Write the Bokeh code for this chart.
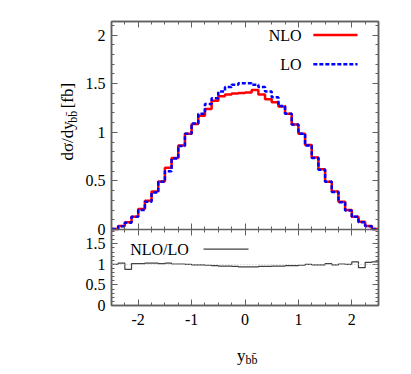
import numpy as np
from bokeh.plotting import figure
from bokeh.models import (Range1d, FixedTicker, LinearAxis, Label, CustomJSTickFormatter,
                          Span)
from bokeh.layouts import column, row
from bokeh.embed import file_html
from bokeh.resources import INLINE

# ---------------- data ----------------
x_min, x_max, bin_width = -2.5, 2.5, 0.125

lo = [0.006, 0.034, 0.070, 0.130, 0.200, 0.285, 0.380, 0.490, 0.600, 0.730,
      0.860, 0.985, 1.090, 1.190, 1.290, 1.350, 1.420, 1.465, 1.490, 1.505,
      1.505, 1.490, 1.465, 1.420, 1.360, 1.270, 1.190, 1.080, 0.985, 0.865,
      0.735, 0.615, 0.490, 0.385, 0.280, 0.195, 0.130, 0.075, 0.033, 0.006]

nlo = [0.006, 0.035, 0.075, 0.130, 0.210, 0.295, 0.390, 0.495, 0.635, 0.735,
       0.865, 0.985, 1.085, 1.170, 1.240, 1.325, 1.370, 1.390, 1.400, 1.405,
       1.410, 1.435, 1.390, 1.340, 1.310, 1.265, 1.190, 1.080, 0.985, 0.870,
       0.740, 0.620, 0.490, 0.390, 0.285, 0.200, 0.130, 0.080, 0.035, 0.006]

ratio = [1.00, 1.03, 0.88, 1.02, 1.02, 1.03, 1.03, 1.02, 1.03, 1.01,
         1.01, 1.00, 0.99, 0.99, 0.98, 0.97, 0.96, 0.96, 0.95, 0.94,
         0.94, 0.94, 0.95, 0.95, 0.96, 0.96, 0.97, 0.97, 0.98, 1.00,
         0.99, 0.99, 1.02, 0.99, 1.01, 1.00, 1.06, 0.92, 1.05, 1.06]

x_ticks = [-2, -1, 0, 1, 2]
x_minor = [round(v, 2) for v in np.arange(-2.5, 2.51, 0.25)]
main_y_ticks = [0, 0.5, 1, 1.5, 2]
main_y_minor = [round(v, 2) for v in np.arange(0, 2.15, 0.1)]
ratio_y_ticks = [0, 0.5, 1, 1.5]
ratio_y_minor = [round(v, 2) for v in np.arange(0, 1.85, 0.1)]

main_top = 2.14      # upper end of the main panel
ratio_top = 1.85     # upper end of the ratio panel

edges = x_min + bin_width * np.arange(len(lo) + 1)

# ---------------- geometry / styling ----------------
FONT = "Liberation Serif"
AXC = "#606060"
MAIN_PX, RATIO_PX = 208, 76
y0 = -main_top * RATIO_PX / MAIN_PX        # primary-range value at the ratio panel's bottom
k = -y0 / ratio_top                        # primary units per ratio unit
ratio_end = (main_top - y0) / k            # ratio-range value at the frame top


def r2p(r):
    return y0 + r * k


left_ticks = main_y_ticks + [r2p(r) for r in ratio_y_ticks]
left_minor = main_y_minor + [r2p(r) for r in ratio_y_minor]

yfmt = CustomJSTickFormatter(args=dict(y0=y0, k=k), code="""
    let v = tick;
    if (tick < -1e-9) { v = (tick - y0) / k; }
    return String(Math.round(v * 100) / 100);
""")
xfmt = CustomJSTickFormatter(code="return String(tick);")
blank = CustomJSTickFormatter(code="return '';")


def style_axis(ax, ticks, minor, formatter, labels=True):
    ax.ticker = FixedTicker(ticks=ticks, minor_ticks=minor)
    ax.formatter = formatter if labels else blank
    ax.axis_line_color = AXC
    ax.axis_line_width = 1.5
    ax.major_tick_in = 6
    ax.major_tick_out = 0
    ax.minor_tick_in = 3
    ax.minor_tick_out = 0
    ax.major_tick_line_color = AXC
    ax.minor_tick_line_color = AXC
    ax.major_label_text_font = FONT
    ax.major_label_text_font_size = "16px"
    ax.major_label_text_color = "black"
    ax.major_label_standoff = 6
    ax.axis_label_standoff = 0
    if not labels:
        ax.major_label_text_font_size = "1px"
        ax.major_label_standoff = 0


p = figure(width=323, height=337, output_backend="svg", toolbar_location=None,
           x_range=Range1d(x_min, x_max), y_range=Range1d(y0, main_top),
           min_border_left=31, min_border_right=25, min_border_top=21, min_border_bottom=32,
           background_fill_color="white", border_fill_color="white")
p.extra_y_ranges = {"ratio": Range1d(0, ratio_end)}
p.xgrid.visible = False
p.ygrid.visible = False
p.outline_line_color = AXC
p.outline_line_width = 1.5

style_axis(p.xaxis[0], x_ticks, x_minor, xfmt)
p.xaxis[0].major_label_standoff = 8
style_axis(p.yaxis[0], left_ticks, left_minor, yfmt)
ax_r = LinearAxis()
style_axis(ax_r, left_ticks, left_minor, yfmt, labels=False)
p.add_layout(ax_r, "right")
ax_t = LinearAxis()
style_axis(ax_t, x_ticks, x_minor, xfmt, labels=False)
p.add_layout(ax_t, "above")
# separator between the panels, with ticks pointing into both
ax_mid = LinearAxis(fixed_location=0)
style_axis(ax_mid, x_ticks, x_minor, xfmt, labels=False)
ax_mid.major_tick_out = 6
ax_mid.minor_tick_out = 3
p.add_layout(ax_mid, "below")

# ---- main panel ----
p.step(edges, nlo + [nlo[-1]], mode="after", line_color="#ff0000", line_width=2.5)
p.step(edges, lo + [lo[-1]], mode="after", line_color="#0000ff", line_width=2.5,
       line_dash="4 2")

p.add_layout(Label(x=1.06, y=2.0, text="NLO", text_align="right", text_baseline="middle",
                   text_font=FONT, text_font_size="16px", text_color="black"))
p.line([1.28, 2.107], [2.0, 2.0], line_color="#ff0000", line_width=2.5)
p.add_layout(Label(x=1.06, y=1.70, text="LO", text_align="right", text_baseline="middle",
                   text_font=FONT, text_font_size="16px", text_color="black"))
p.line([1.28, 2.107], [1.70, 1.70], line_color="#0000ff", line_width=2.5, line_dash="4 2")

# ---- ratio panel ----
p.add_layout(Span(location=1, dimension="width", y_range_name="ratio",
                  line_color="#c0c0c0", line_dash="1 2", line_width=1))
p.step(edges, ratio + [ratio[-1]], mode="after", y_range_name="ratio",
       line_color="#404040", line_width=1.2)
p.add_layout(Label(x=-2.15, y=1.37, y_range_name="ratio", text="NLO/LO", text_align="left",
                   text_baseline="middle", text_font=FONT, text_font_size="16px",
                   text_color="black"))
p.line([-0.777, 0.066], [1.37, 1.37], y_range_name="ratio", line_color="#404040",
       line_width=1.2)


# ---------------- axis-title figures ----------------
def text_fig(w, h):
    f = figure(width=w, height=h, output_backend="svg", toolbar_location=None,
               x_range=Range1d(0, w), y_range=Range1d(0, h),
               min_border=0, min_border_left=0, min_border_right=0,
               min_border_top=0, min_border_bottom=0,
               background_fill_color=None, border_fill_color=None)
    f.axis.visible = False
    f.grid.visible = False
    f.outline_line_color = None
    return f


ylab = text_fig(80, 337)
yb = 337 - 165
ylab.add_layout(Label(x=67, y=yb, text="dσ/dy", angle=np.pi / 2, text_align="left",
                      text_baseline="middle", text_font=FONT, text_font_size="17px",
                      text_color="black"))
ylab.add_layout(Label(x=72, y=yb + 45, text="bb\u0304", angle=np.pi / 2, text_align="left",
                      text_baseline="middle", text_font=FONT, text_font_size="12px",
                      text_color="black"))
ylab.add_layout(Label(x=67, y=yb + 62, text="[fb]", angle=np.pi / 2, text_align="left",
                      text_baseline="middle", text_font=FONT, text_font_size="17px",
                      text_color="black"))

xlab = text_fig(405, 30)
xlab.add_layout(Label(x=236.5, y=12, text="y", text_align="left", text_baseline="middle",
                      text_font=FONT, text_font_size="17px", text_color="black"))
xlab.add_layout(Label(x=245, y=8, text="bb\u0304", text_align="left", text_baseline="middle",
                      text_font=FONT, text_font_size="12px", text_color="black"))

layout = column(row(ylab, p, spacing=0), xlab, spacing=0)
open("out.html", "w").write(file_html(layout, INLINE))
